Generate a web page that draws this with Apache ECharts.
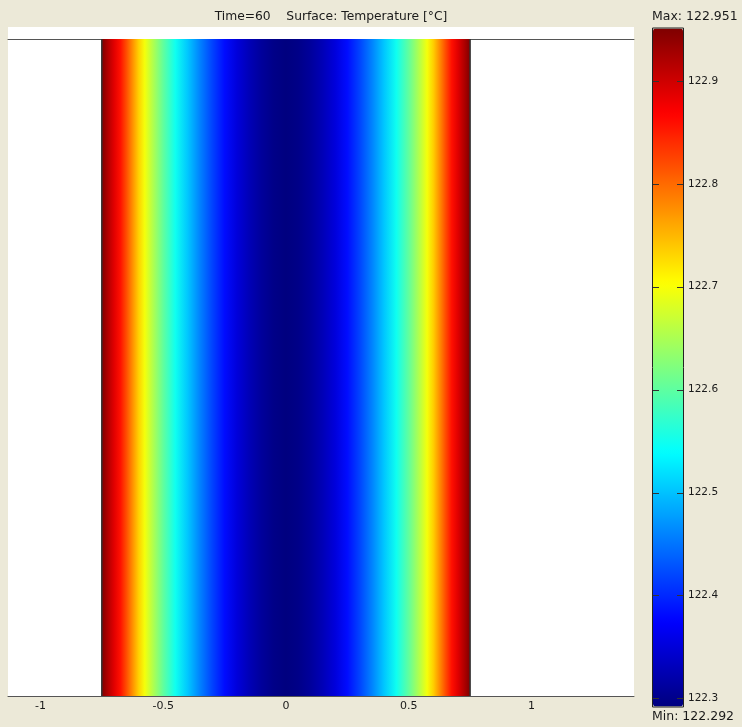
<!DOCTYPE html>
<html><head><meta charset="utf-8">
<script src="https://cdn.jsdelivr.net/npm/echarts@6/dist/echarts.min.js"></script>
<style>html,body{margin:0;padding:0;background:#ECE9D8;} #c{width:742px;height:727px;}</style>
</head><body><div id="c"></div>
<script>
const titleText = 'Time=60    Surface: Temperature [\u00B0C]';
const maxLabel = 'Max: 122.951';
const minLabel = 'Min: 122.292';
const tempMin = 122.292;
const tempMax = 122.951;
const domainX = [-0.75, 0.75];
const domainY = [0, 1];
const xPositions = [-0.75,-0.725,-0.70,-0.675,-0.65,-0.625,-0.60,-0.575,-0.55,-0.50,-0.45,-0.40,-0.35,-0.30,-0.25,-0.20,-0.15,-0.10,-0.05,0,
  0.05,0.10,0.15,0.20,0.25,0.30,0.35,0.40,0.45,0.50,0.55,0.575,0.60,0.625,0.65,0.675,0.70,0.725,0.75];
const temperatures = [122.951,122.918,122.888,122.859,122.819,122.776,122.734,122.697,122.664,122.602,122.549,122.503,122.459,122.418,122.382,122.351,122.328,122.310,122.298,122.292,
  122.298,122.310,122.328,122.351,122.382,122.418,122.459,122.503,122.549,122.602,122.664,122.697,122.734,122.776,122.819,122.859,122.888,122.918,122.951];
const xTickValues = [-1, -0.5, 0, 0.5, 1];
const colorbarTicks = [122.3, 122.4, 122.5, 122.6, 122.7, 122.8, 122.9];
const jetColors = ['#00007F','#0000FF','#007FFF','#00FFFF','#7FFF7F','#FFFF00','#FF7F00','#FF0000','#7F0000'];

const FONT = 'DejaVu Sans';
const chart = echarts.init(document.getElementById('c'), null, {renderer: 'canvas'});

const option = {
  backgroundColor: '#ECE9D8',
  animation: false,
  grid: [
    {left: 8, right: 108, top: 39, bottom: 31, show: true, backgroundColor: '#FFFFFF', borderWidth: 0},
    {left: 653, top: 28.5, width: 30, height: 678, show: false}
  ],
  xAxis: [
    {type: 'value', gridIndex: 0, min: -1.132, max: 1.4175, position: 'bottom',
     axisLine: {show: true, lineStyle: {color: '#555555', width: 1}},
     axisTick: {show: false}, splitLine: {show: false},
     axisLabel: {customValues: xTickValues, margin: 5, fontFamily: FONT, fontSize: 11, color: '#1a1a1a',
       formatter: v => String(v)}},
    {type: 'value', gridIndex: 0, min: -1.132, max: 1.4175, position: 'top',
     axisLine: {show: true, lineStyle: {color: '#555555', width: 1}},
     axisTick: {show: false}, splitLine: {show: false}, axisLabel: {show: false}},
    {type: 'value', gridIndex: 1, min: 0, max: 1, show: false}
  ],
  yAxis: [
    {type: 'value', gridIndex: 0, min: domainY[0], max: domainY[1], show: false},
    {type: 'value', gridIndex: 1, min: tempMin, max: tempMax, position: 'right',
     axisLine: {show: false}, splitLine: {show: false}, axisTick: {show: false},
     axisLabel: {customValues: colorbarTicks, margin: 5, fontFamily: FONT, fontSize: 10.5, color: '#1a1a1a',
       formatter: v => v.toFixed(1)}}
  ],
  visualMap: {
    type: 'continuous', min: tempMin, max: tempMax, seriesIndex: 0, dimension: 1,
    left: 653, top: 28.5, itemWidth: 30, itemHeight: 678, padding: 0,
    calculable: false, hoverLink: false, inRange: {color: jetColors}, z: 2
  },
  series: [
    {
      type: 'custom', xAxisIndex: 0, yAxisIndex: 0, z: 2,
      dimensions: ['x', 'temp'],
      encode: {x: 0},
      data: xPositions.map((x, i) => [x, temperatures[i]]),
      renderItem: function (params, api) {
        const i = params.dataIndexInside;
        const n = params.dataInsideLength;
        if (i !== 0) return null;
        const pTL = api.coord([api.value(0, 0), domainY[1]]);
        const pBR = api.coord([api.value(0, n - 1), domainY[0]]);
        const w = pBR[0] - pTL[0];
        const stops = [];
        for (let j = 0; j < n; j++) {
          const px = api.coord([api.value(0, j), domainY[0]])[0];
          stops.push({offset: Math.min(1, Math.max(0, (px - pTL[0]) / w)), color: api.visual('color', j)});
        }
        return {
          type: 'rect',
          shape: {x: pTL[0], y: pTL[1], width: w, height: pBR[1] - pTL[1]},
          style: {fill: {type: 'linear', x: 0, y: 0, x2: 1, y2: 0, colorStops: stops}}
        };
      }
    },
    {type: 'line', xAxisIndex: 0, yAxisIndex: 0, z: 5, symbol: 'none', silent: true,
     lineStyle: {color: '#333333', width: 1.5},
     data: [[domainX[0], domainY[0]], [domainX[0], domainY[1]]]},
    {type: 'line', xAxisIndex: 0, yAxisIndex: 0, z: 5, symbol: 'none', silent: true,
     lineStyle: {color: '#333333', width: 1.5},
     data: [[domainX[1], domainY[0]], [domainX[1], domainY[1]]]},
    {
      type: 'custom', xAxisIndex: 2, yAxisIndex: 1, z: 20, silent: true,
      encode: {x: 0, y: 1},
      data: colorbarTicks.map(v => [0, v]),
      renderItem: function (params, api) {
        const v = api.value(1);
        const pl = api.coord([0, v]);
        const pr = api.coord([1, v]);
        const y = Math.round(pl[1]) + 0.5;
        const st = {stroke: '#333333', lineWidth: 1};
        return {type: 'group', children: [
          {type: 'line', shape: {x1: pl[0], y1: y, x2: pl[0] + 6, y2: y}, style: st},
          {type: 'line', shape: {x1: pr[0] - 6, y1: y, x2: pr[0], y2: y}, style: st}
        ]};
      }
    }
  ],
  graphic: [
    {type: 'rect', shape: {x: 8, y: 27, width: 626, height: 12}, style: {fill: '#FFFFFF'}, z: 0, silent: true},
    {type: 'text', x: 331, y: 17, style: {text: titleText, fontFamily: FONT, fontSize: 12.3, fill: '#1a1a1a', textAlign: 'center', textVerticalAlign: 'middle'}},
    {type: 'text', x: 652, y: 17, style: {text: maxLabel, fontFamily: FONT, fontSize: 12.5, fill: '#1a1a1a', textAlign: 'left', textVerticalAlign: 'middle'}},
    {type: 'text', x: 652, y: 717, style: {text: minLabel, fontFamily: FONT, fontSize: 12.5, fill: '#1a1a1a', textAlign: 'left', textVerticalAlign: 'middle'}},
    {type: 'rect', shape: {x: 652.5, y: 28, width: 31, height: 679}, style: {fill: null, stroke: '#222222', lineWidth: 1}, z: 100, silent: true}
  ]
};
chart.setOption(option);
</script>
</body></html>
